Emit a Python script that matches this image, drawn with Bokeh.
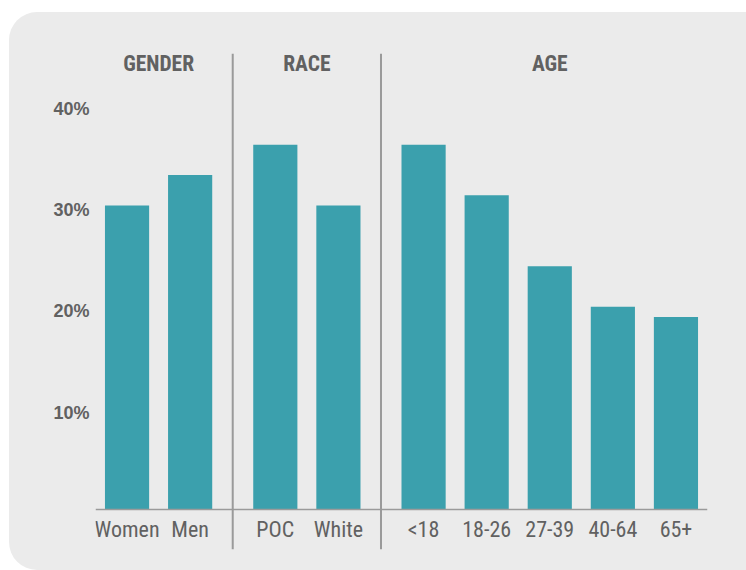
from bokeh.plotting import figure
from bokeh.models import (ColumnDataSource, FactorRange, Range1d, FixedTicker,
                          PrintfTickFormatter, Span, LinearAxis)
from bokeh.core.properties import value
from bokeh.embed import file_html
from bokeh.resources import INLINE

# Share of respondents, by group
groups = ["GENDER", "RACE", "AGE"]
gender_labels = ["Women", "Men"]
gender_values = [30, 33]
race_labels = ["POC", "White"]
race_values = [36, 30]
age_labels = ["<18", "18-26", "27-39", "40-64", "65+"]
age_values = [36, 31, 24, 20, 19]
y_ticks = [10, 20, 30, 40]

BAR_COLOR = "#3ba0ad"
TEXT_COLOR = "#616161"
RULE_COLOR = "#9a9a9a"
NARROW = "Roboto Condensed"
GROUP_PAD = 0.35
HEADER_Y = 44
Y_START, Y_END = -3.95, 45.0
LABEL_DROP = 0.44   # percentage tick labels sit a little below their gridline value

factors = ([("GENDER", c) for c in gender_labels]
           + [("RACE", c) for c in race_labels]
           + [("AGE", c) for c in age_labels])
values = gender_values + race_values + age_values

source = ColumnDataSource(data=dict(x=factors, top=values))

x_range = FactorRange(*factors, factor_padding=0, group_padding=GROUP_PAD,
                      range_padding=0)

p = figure(x_range=x_range, y_range=Range1d(Y_START, Y_END),
           y_axis_location=None,
           width=737, height=558, output_backend="svg", toolbar_location=None,
           min_border_left=86, min_border_right=39,
           min_border_top=41, min_border_bottom=21)
p.extra_y_ranges = {"ylab": Range1d(Y_START + LABEL_DROP, Y_END + LABEL_DROP)}

p.background_fill_color = None
p.border_fill_color = None
p.outline_line_color = None
p.margin = (12, 0, 0, 9)
p.styles = {
    "background-color": "#ebebeb",
    "border-top-left-radius": "28px",
    "border-bottom-left-radius": "28px",
}

p.xgrid.visible = False
p.ygrid.visible = False

p.vbar(x="x", top="top", width=0.7, source=source,
       fill_color=BAR_COLOR, line_color=None)

# vertical rules between the groups
p.add_layout(Span(location=2 + GROUP_PAD / 2, dimension="height",
                  line_color=RULE_COLOR, line_width=2))
p.add_layout(Span(location=4 + 1.5 * GROUP_PAD, dimension="height",
                  line_color=RULE_COLOR, line_width=2))

# group headers
p.text(x=groups, y=[HEADER_Y] * len(groups), text=groups,
       text_font=value(NARROW), text_font_style="bold",
       text_font_size="21.5px", text_color=TEXT_COLOR,
       text_align="center", text_baseline="middle")

# x axis sits on the zero line
xa = p.xaxis[0]
xa.fixed_location = 0
xa.axis_line_color = RULE_COLOR
xa.axis_line_width = 1.5
xa.major_tick_line_color = None
xa.minor_tick_line_color = None
xa.major_label_text_font = NARROW
xa.major_label_text_font_size = "22px"
xa.major_label_text_color = TEXT_COLOR
xa.major_label_standoff = 2
xa.group_text_alpha = 0
xa.separator_line_alpha = 0

ya = LinearAxis(y_range_name="ylab",
                ticker=FixedTicker(ticks=y_ticks),
                formatter=PrintfTickFormatter(format="%d%%"))
ya.axis_line_color = None
ya.major_tick_line_color = None
ya.minor_tick_line_color = None
ya.major_tick_out = 0
ya.major_label_text_font = "Liberation Sans"
ya.major_label_text_font_style = "bold"
ya.major_label_text_font_size = "18px"
ya.major_label_text_color = TEXT_COLOR
ya.major_label_standoff = 6
p.add_layout(ya, "left")

open("out.html", "w").write(file_html(p, INLINE))
